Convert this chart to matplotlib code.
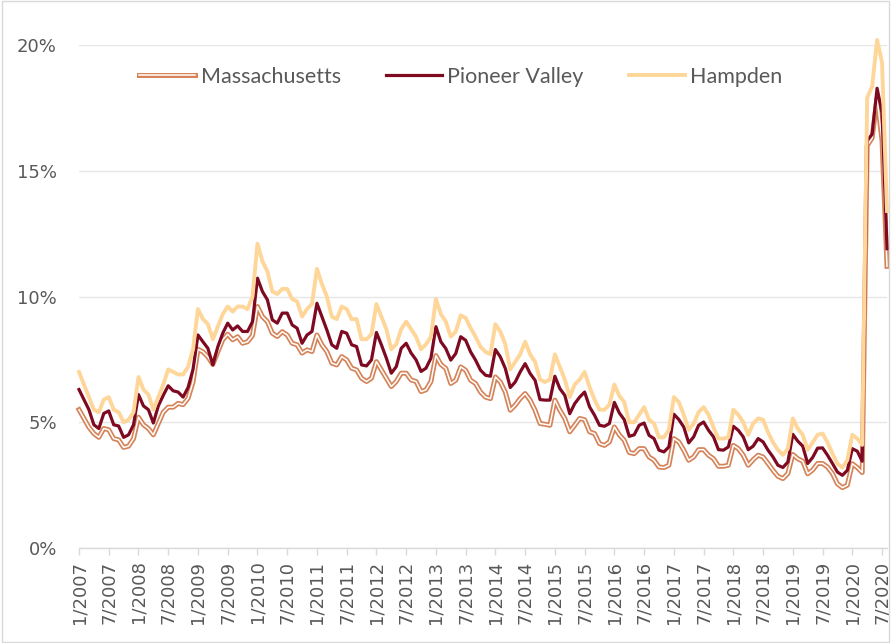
# Unemployment rate: Massachusetts vs Pioneer Valley vs Hampden, monthly 1/2007 - 8/2020

import matplotlib
matplotlib.use('Agg')
import matplotlib.pyplot as plt
import matplotlib.patheffects as pe
from matplotlib.patches import Rectangle
import numpy as np

# Monthly rates (%), Jan 2007 .. Aug 2020
massachusetts = [
    5.5, 5.15, 4.8, 4.55, 4.4, 4.75, 4.7, 4.35, 4.3, 4.0, 4.05, 4.35,      # 2007
    5.2, 4.9, 4.75, 4.5, 4.95, 5.4, 5.6, 5.6, 5.75, 5.7, 5.95, 6.6,        # 2008
    7.9, 7.8, 7.6, 7.3, 7.8, 8.28, 8.5, 8.28, 8.4, 8.14, 8.2, 8.45,        # 2009
    9.6, 9.2, 9.0, 8.54, 8.41, 8.6, 8.47, 8.14, 8.08, 7.75, 7.88, 7.81,    # 2010
    8.47, 8.08, 7.81, 7.35, 7.28, 7.61, 7.48, 7.15, 7.08, 6.75, 6.62, 6.75,  # 2011
    7.41, 7.08, 6.75, 6.42, 6.62, 6.95, 6.95, 6.68, 6.62, 6.22, 6.29, 6.62,  # 2012
    7.65, 7.3, 7.14, 6.54, 6.67, 7.2, 7.07, 6.67, 6.54, 6.2, 6.0, 5.94,    # 2013
    6.8, 6.6, 6.2, 5.48, 5.68, 5.94, 6.14, 5.88, 5.48, 4.95, 4.92, 4.88,   # 2014
    5.88, 5.48, 5.15, 4.62, 4.88, 5.15, 5.1, 4.62, 4.55, 4.15, 4.08, 4.22,  # 2015
    4.81, 4.5, 4.28, 3.8, 3.75, 3.95, 3.95, 3.62, 3.49, 3.22, 3.2, 3.29,   # 2016
    4.35, 4.22, 3.89, 3.49, 3.62, 3.91, 3.91, 3.69, 3.55, 3.25, 3.25, 3.29,  # 2017
    4.08, 3.95, 3.69, 3.29, 3.51, 3.69, 3.62, 3.36, 3.09, 2.85, 2.76, 2.96,  # 2018
    3.72, 3.55, 3.45, 2.95, 3.1, 3.36, 3.36, 3.22, 2.96, 2.55, 2.4, 2.5,   # 2019
    3.35, 3.2, 3.0, 16.0, 16.3, 17.9, 16.2, 11.2,                          # 2020
]

pioneer_valley = [
    6.3, 5.9, 5.5, 4.9, 4.75, 5.35, 5.45, 4.9, 4.85, 4.4, 4.5, 4.9,
    6.1, 5.65, 5.5, 4.97, 5.65, 6.07, 6.45, 6.25, 6.2, 6.0, 6.38, 7.1,
    8.47, 8.2, 7.94, 7.28, 8.0, 8.54, 8.94, 8.67, 8.83, 8.61, 8.61, 9.0,
    10.73, 10.2, 9.87, 9.07, 8.94, 9.34, 9.34, 8.87, 8.74, 8.14, 8.47, 8.61,
    9.73, 9.2, 8.67, 8.08, 7.94, 8.61, 8.54, 8.08, 8.01, 7.28, 7.24, 7.48,
    8.57, 8.08, 7.55, 6.95, 7.21, 7.94, 8.14, 7.75, 7.48, 7.02, 7.15, 7.55,
    8.8, 8.2, 7.93, 7.47, 7.73, 8.4, 8.26, 7.8, 7.47, 7.07, 6.87, 6.83,
    7.89, 7.6, 7.14, 6.38, 6.6, 7.0, 7.33, 6.94, 6.67, 5.9, 5.88, 5.88,
    6.83, 6.34, 6.07, 5.34, 5.74, 6.0, 6.2, 5.61, 5.28, 4.88, 4.84, 4.95,
    5.79, 5.37, 5.1, 4.44, 4.5, 4.88, 4.97, 4.48, 4.35, 3.89, 3.82, 4.02,
    5.32, 5.11, 4.81, 4.18, 4.42, 4.88, 5.01, 4.68, 4.42, 3.91, 3.89, 4.02,
    4.84, 4.68, 4.42, 3.91, 4.05, 4.35, 4.22, 3.89, 3.62, 3.29, 3.2, 3.42,
    4.52, 4.25, 4.05, 3.36, 3.6, 3.97, 3.98, 3.69, 3.36, 3.02, 2.89, 3.09,
    3.95, 3.85, 3.45, 16.2, 16.45, 18.28, 17.3, 11.9,
]

hampden = [
    7.0, 6.5, 6.0, 5.5, 5.4, 5.9, 6.0, 5.5, 5.4, 5.0, 5.1, 5.4,
    6.8, 6.3, 6.1, 5.5, 6.0, 6.5, 7.1, 7.0, 6.9, 6.9, 7.2, 7.9,
    9.5, 9.1, 8.9, 8.3, 8.8, 9.3, 9.6, 9.4, 9.6, 9.6, 9.5, 10.0,
    12.1, 11.4, 11.0, 10.2, 10.1, 10.3, 10.3, 9.9, 9.8, 9.2, 9.5, 9.7,
    11.1, 10.5, 10.0, 9.2, 9.1, 9.6, 9.5, 9.1, 9.1, 8.3, 8.3, 8.5,
    9.7, 9.2, 8.7, 7.9, 8.1, 8.7, 9.0, 8.7, 8.4, 7.9, 8.1, 8.4,
    9.9, 9.3, 9.0, 8.4, 8.6, 9.25, 9.15, 8.75, 8.4, 8.0, 7.8, 7.7,
    8.9, 8.6, 8.1, 7.1, 7.4, 7.7, 8.2, 7.7, 7.4, 6.7, 6.6, 6.7,
    7.7, 7.2, 6.7, 6.0, 6.5, 6.7, 7.0, 6.4, 5.9, 5.5, 5.5, 5.7,
    6.5, 6.05, 5.8, 5.0, 5.0, 5.3, 5.6, 5.1, 4.95, 4.4, 4.4, 4.7,
    6.0, 5.8, 5.3, 4.7, 4.95, 5.4, 5.6, 5.3, 4.8, 4.35, 4.35, 4.4,
    5.5, 5.3, 5.0, 4.5, 4.95, 5.15, 5.1, 4.6, 4.2, 3.9, 3.7, 3.95,
    5.15, 4.75, 4.5, 3.9, 4.2, 4.5, 4.55, 4.2, 3.75, 3.35, 3.2, 3.5,
    4.5, 4.35, 4.1, 17.9, 18.35, 20.2, 19.3, 13.4,
]

tick_labels = [f'{m}/{y}' for y in range(2007, 2021) for m in (1, 7)]
y_ticks = [0, 5, 10, 15, 20]

# month index for each point
months = np.arange(len(massachusetts))
tick_pos = [(int(lbl.split('/')[1]) - 2007) * 12 + int(lbl.split('/')[0]) - 1 for lbl in tick_labels]

fig = plt.figure(figsize=(8.91, 6.43), dpi=100)
ax = fig.add_axes([79 / 891, 1 - 548 / 643, (887 - 79) / 891, (548 - 45) / 643])

grey = '#595959'

# Massachusetts: double line (orange outline, white core)
ax.plot(months, massachusetts, color='white', lw=1.1, clip_on=False, solid_joinstyle='round',
        label='Massachusetts',
        path_effects=[pe.Stroke(linewidth=3.6, foreground='#D5845A'), pe.Normal()])
ax.plot(months, pioneer_valley, color='#7E0A22', lw=2.3, clip_on=False, label='Pioneer Valley')
ax.plot(months, hampden, color='#FFD699', lw=2.8, clip_on=False, label='Hampden')

ax.set_xlim(0, len(massachusetts) - 1)
ax.set_ylim(0, 20)
ax.set_yticks(y_ticks)
ax.set_yticklabels([f'{v}%' for v in y_ticks])
ax.set_xticks(tick_pos)
ax.set_xticklabels(tick_labels, rotation=90)

ax.grid(axis='y', color='#E6E6E6', lw=1.0)
ax.set_axisbelow(True)
for side in ('top', 'right', 'left'):
    ax.spines[side].set_visible(False)
ax.spines['bottom'].set_color('#D9D9D9')
ax.spines['bottom'].set_linewidth(1.0)
ax.tick_params(axis='y', length=0, pad=16, labelsize=13, labelcolor=grey)
ax.tick_params(axis='x', length=5, width=1, color='#D9D9D9', pad=4, labelsize=13, labelcolor=grey)

leg = ax.legend(loc='center', bbox_to_anchor=(461 / 891, 1 - 77 / 643), bbox_transform=fig.transFigure,
                ncol=3, frameon=False, handlelength=2.6, handletextpad=0.25, columnspacing=2.1,
                borderpad=0, prop={'family': 'Lato', 'size': 15.5})
for t in leg.get_texts():
    t.set_color(grey)

# chart border
fig.patches.append(Rectangle((0.002, 0.002), 0.996, 0.996, transform=fig.transFigure,
                             fill=False, ec='#D9D9D9', lw=1))

fig.savefig('out.png', dpi=100)
